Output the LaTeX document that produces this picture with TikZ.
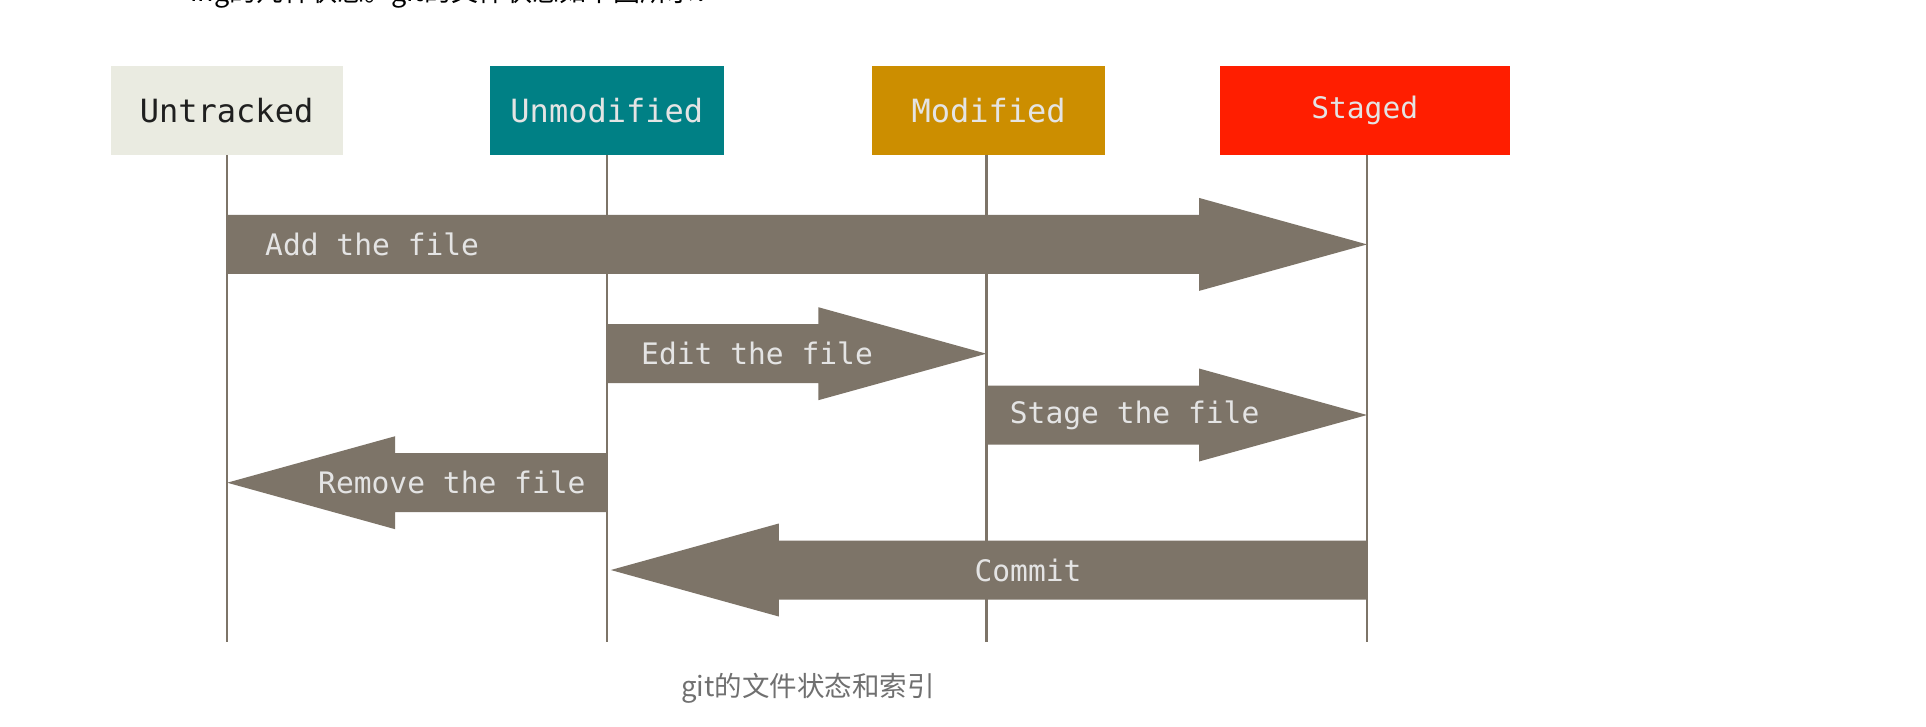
\documentclass[tikz,border=0pt]{standalone}
\usepackage{fontspec}
\newfontfamily\monofont{DejaVu Sans Mono}
\newfontfamily\cjk{Noto Sans CJK SC}
\definecolor{untrc}{HTML}{EAEBE1}
\definecolor{unmodc}{HTML}{008085}
\definecolor{modc}{HTML}{CC8E00}
\definecolor{stagc}{HTML}{FF1E00}
\definecolor{arrc}{HTML}{7D7468}
\definecolor{lblc}{HTML}{E4E4E4}
\definecolor{capc}{HTML}{707070}
\tikzset{
  statebox/.style={minimum height=88.5pt, inner sep=0pt, font=\monofont\fontsize{32}{38}\selectfont, text=lblc},
  vline/.style={draw=arrc, line width=2.5pt},
  fatarrow/.style={fill=arrc},
  arrlabel/.style={inner sep=0pt, text=lblc, font=\monofont\fontsize{29.6}{35}\selectfont}
}
\begin{document}
\begin{tikzpicture}[x=1pt,y=-1pt]
\clip (0,0) rectangle (1926,726);
\fill[white] (0,0) rectangle (1926,726);

% cut-off line of text at the top (only its lower edge is inside the picture)
\node[anchor=base west, inner sep=0pt, font=\cjk\fontsize{27}{32}\selectfont, text=black] (toptext) at (190,1.5) {ing的几种状态。git的文件状态如下图所示：};

% state boxes
\node[statebox, fill=untrc, minimum width=232pt, text={black!88}] (untr) at (226.6,110.5) {Untracked};
\node[statebox, fill=unmodc, minimum width=234pt] (unmod) at (606.8,110.5) {Unmodified};
\node[statebox, fill=modc, minimum width=233.5pt] (mod) at (988.7,110.5) {Modified};
\node[statebox, fill=stagc, minimum width=290pt, font=\monofont\fontsize{29.6}{35}\selectfont] (stag) at (1364.7,110.5) {Staged};

% life lines
\coordinate (l1) at (227.2,642.4);
\coordinate (l2) at (606.8,642.4);
\coordinate (l3) at (986.3,642.4);
\coordinate (l4) at (1367,642.4);
\draw[vline] (227.2,154.75) -- (l1);
\draw[vline] (606.8,154.75) -- (l2);
\draw[vline] (986.3,154.75) -- (l3);
\draw[vline] (1367,154.75) -- (l4);

% Add the file
\fill[fatarrow] (227.2,214.9) -- (1199,214.9) -- (1199,197.9) -- (1367,244.4) -- (1199,290.9) -- (1199,273.9) -- (227.2,273.9) -- cycle;
\node[arrlabel, anchor=west] (addl) at (265,244.4) {Add the file};

% Edit the file
\fill[fatarrow] (606.8,324.2) -- (818.3,324.2) -- (818.3,307.2) -- (986.3,353.7) -- (818.3,400.2) -- (818.3,383.2) -- (606.8,383.2) -- cycle;
\node[arrlabel, anchor=west] (editl) at (641,353.7) {Edit the file};

% Stage the file
\fill[fatarrow] (986.3,385.5) -- (1199,385.5) -- (1199,368.5) -- (1367,415) -- (1199,461.5) -- (1199,444.5) -- (986.3,444.5) -- cycle;
\node[arrlabel, anchor=west] (stagel) at (1009.7,415) {Stage the file};

% Remove the file
\fill[fatarrow] (606.8,453.2) -- (395.2,453.2) -- (395.2,436.2) -- (227.2,482.7) -- (395.2,529.2) -- (395.2,512.2) -- (606.8,512.2) -- cycle;
\node[arrlabel, anchor=west] (removel) at (318,482.7) {Remove the file};

% Commit
\fill[fatarrow] (1367,540.5) -- (778.8,540.5) -- (778.8,523.5) -- (610.8,570) -- (778.8,616.5) -- (778.8,599.5) -- (1367,599.5) -- cycle;
\node[arrlabel] (commitl) at (1028,570) {Commit};

% caption
\node[inner sep=0pt, font=\cjk\fontsize{27.5}{32}\selectfont, text=capc] (caption) at (808,688.5) {git的文件状态和索引};
\end{tikzpicture}
\end{document}
